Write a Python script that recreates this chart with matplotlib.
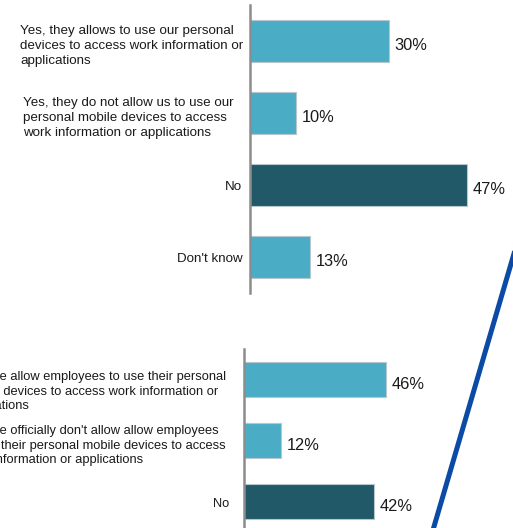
import matplotlib.pyplot as plt
from matplotlib.lines import Line2D

plt.rcParams['font.family'] = ['Liberation Sans', 'DejaVu Sans']

# employee view: does the company allow personal devices?
emp_labels = [
    "Yes, they allows to use our personal\ndevices to access work information or\napplications",
    "Yes, they do not allow us to use our\npersonal mobile devices to access\nwork information or applications",
    "No",
    "Don't know",
]
emp_values = [30, 10, 47, 13]
emp_dark = [False, False, True, False]

# company view
co_labels = [
    "Yes, we allow employees to use their personal\nmobile devices to access work information or\napplications",
    "Yes, we officially don't allow allow employees\nto use their personal mobile devices to access\nwork information or applications",
    "No",
]
co_values = [46, 12, 42]
co_dark = [False, False, True]

LIGHT = "#4BACC6"
DARK = "#215968"
W, H = 513, 528

fig = plt.figure(figsize=(W / 100, H / 100), dpi=100)


def panel(rect, labels, values, dark, xmax, ylim, label_pos, label_size):
    ax = fig.add_axes(rect)
    y = list(range(len(values)))
    colors = [DARK if d else LIGHT for d in dark]
    ax.barh(y, values, height=0.58, color=colors, edgecolor="#b7c7cd", linewidth=0.8)
    ax.set_xlim(0, xmax)
    ax.set_ylim(*ylim)
    for s in ["top", "right", "bottom"]:
        ax.spines[s].set_visible(False)
    ax.spines["left"].set_color("#8c8c8c")
    ax.spines["left"].set_linewidth(1.8)
    ax.set_xticks([])
    ax.set_yticks([])
    for i, v in enumerate(values):
        ax.annotate(f"{v}%", xy=(v, i), xytext=(6, -5), textcoords="offset pixels",
                    ha="left", va="center", fontsize=11.8, color="#1a1a1a")
    for i, (lab, (px, ha, dy)) in enumerate(zip(labels, label_pos)):
        ax.annotate(lab, xy=(px / W, i), xycoords=("figure fraction", "data"),
                    xytext=(0, dy), textcoords="offset pixels",
                    ha=ha, va="center", multialignment="left",
                    fontsize=label_size, color="#1a1a1a", linespacing=1.3,
                    annotation_clip=False)
    return ax


panel([250 / W, (H - 293) / H, 254 / W, 288 / H],
      emp_labels, emp_values, emp_dark, 55, (3.5, -0.5),
      [(20, "left", -5), (23, "left", -5), (242, "right", -2), (243, "right", -2)], 9.6)

panel([244 / W, 0, 247 / W, 179 / H],
      co_labels, co_values, co_dark, 80, (2.434, -0.5),
      [(-38, "left", -12), (-38, "left", -5), (229, "right", -2)], 9.3)

# diagonal divider stroke
fig.add_artist(Line2D([433 / W, 518 / W], [(H - 530) / H, (H - 240) / H],
                      transform=fig.transFigure, color="#0B4BA5", linewidth=3.6))

fig.savefig("out.png", dpi=100)
